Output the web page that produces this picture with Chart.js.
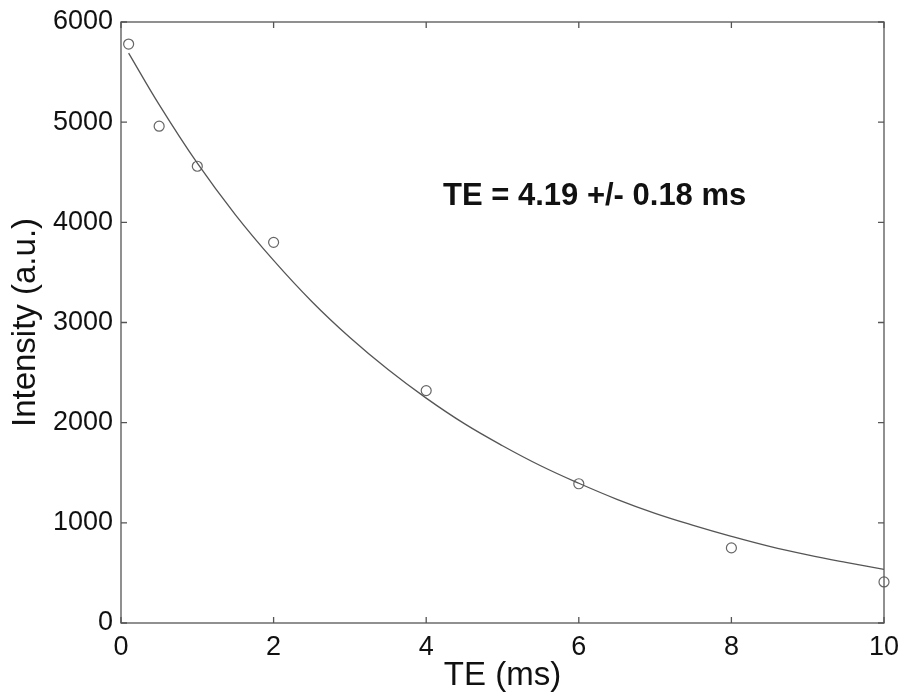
<!DOCTYPE html>
<html>
<head>
<meta charset="utf-8">
<script src="https://cdn.jsdelivr.net/npm/chart.js@4/dist/chart.umd.min.js"></script>
<style>
  html, body { margin: 0; padding: 0; background: #fff; }
  #wrap { width: 902px; height: 696px; }
</style>
</head>
<body>
<div id="wrap"><canvas id="decayChart" width="902" height="696"></canvas></div>
<script>
// measured echo times (ms) and intensities (a.u.)
const teValues = [0.1, 0.5, 1, 2, 4, 6, 8, 10];
const intensityValues = [5780, 4960, 4560, 3800, 2320, 1390, 750, 410];

// fitted curve
const fitTE = [0.1, 0.5, 1, 1.5, 2, 2.5, 3, 3.5, 4, 4.5, 5, 5.5, 6, 6.5, 7, 7.5, 8, 8.5, 9, 9.5, 10];
const fitIntensity = [5690, 5175, 4590, 4075, 3620, 3210, 2850, 2530, 2245, 1990, 1770, 1570, 1395, 1235, 1095, 975, 865, 765, 680, 605, 535];

const xTicks = [0, 2, 4, 6, 8, 10];
const yTicks = [0, 1000, 2000, 3000, 4000, 5000, 6000];
const annotation = { text: 'TE = 4.19 +/- 0.18 ms', x: 4.22, y: 4262 };

const FONT = '"Liberation Sans", Arial, Helvetica, sans-serif';

// box round the plot with inward ticks on all four sides
const boxPlugin = {
  id: 'boxTicks',
  afterDatasetsDraw(chart) {
    const { ctx, chartArea: a, scales } = chart;
    ctx.save();
    ctx.strokeStyle = '#555';
    ctx.lineWidth = 1.3;
    ctx.strokeRect(a.left, a.top, a.right - a.left, a.bottom - a.top);
    const len = 6;
    ctx.beginPath();
    xTicks.forEach((v) => {
      const px = scales.x.getPixelForValue(v);
      ctx.moveTo(px, a.bottom); ctx.lineTo(px, a.bottom - len);
      ctx.moveTo(px, a.top); ctx.lineTo(px, a.top + len);
    });
    yTicks.forEach((v) => {
      const py = scales.y.getPixelForValue(v);
      ctx.moveTo(a.left, py); ctx.lineTo(a.left + len, py);
      ctx.moveTo(a.right, py); ctx.lineTo(a.right - len, py);
    });
    ctx.stroke();

    ctx.fillStyle = '#111';
    ctx.font = 'bold 31px ' + FONT;
    ctx.textBaseline = 'middle';
    ctx.textAlign = 'left';
    ctx.fillText(annotation.text, scales.x.getPixelForValue(annotation.x), scales.y.getPixelForValue(annotation.y));
    ctx.restore();
  }
};

new Chart(document.getElementById('decayChart'), {
  type: 'scatter',
  data: {
    datasets: [
      {
        label: 'fit',
        data: fitTE.map((t, i) => ({ x: t, y: fitIntensity[i] })),
        showLine: true,
        borderColor: '#555',
        borderWidth: 1.3,
        pointRadius: 0,
        tension: 0.4,
        fill: false,
      },
      {
        label: 'data',
        data: teValues.map((t, i) => ({ x: t, y: intensityValues[i] })),
        pointStyle: 'circle',
        pointRadius: 5,
        borderColor: '#666',
        borderWidth: 1.2,
        backgroundColor: 'rgba(0,0,0,0)',
        clip: false,
      },
    ],
  },
  options: {
    responsive: false,
    animation: false,
    layout: { padding: { top: 22, right: 18, left: 0, bottom: 0 } },
    plugins: { legend: { display: false }, tooltip: { enabled: false } },
    scales: {
      x: {
        type: 'linear',
        min: 0,
        max: 10,
        afterBuildTicks: (s) => { s.ticks = xTicks.map((v) => ({ value: v })); },
        afterFit: (s) => { s.height = 73; s.paddingLeft = 0; s.paddingRight = 0; },
        grid: { display: false, drawTicks: false, tickLength: 0 },
        border: { display: false },
        ticks: { color: '#111', font: { family: FONT, size: 27 }, padding: 8, maxRotation: 0, callback: (v) => String(v) },
        title: { display: true, text: 'TE (ms)', color: '#111', font: { family: FONT, size: 33 }, padding: { top: 0, bottom: 0 } },
      },
      y: {
        type: 'linear',
        min: 0,
        max: 6000,
        afterBuildTicks: (s) => { s.ticks = yTicks.map((v) => ({ value: v })); },
        afterFit: (s) => { s.width = 121; s.paddingTop = 0; s.paddingBottom = 0; },
        grid: { display: false, drawTicks: false, tickLength: 0 },
        border: { display: false },
        ticks: { color: '#111', font: { family: FONT, size: 27 }, padding: 8, callback: (v) => String(v) },
        title: { display: true, text: 'Intensity (a.u.)', color: '#111', font: { family: FONT, size: 33 }, padding: { top: 6, bottom: 0 } },
      },
    },
  },
  plugins: [boxPlugin],
});
</script>
</body>
</html>
